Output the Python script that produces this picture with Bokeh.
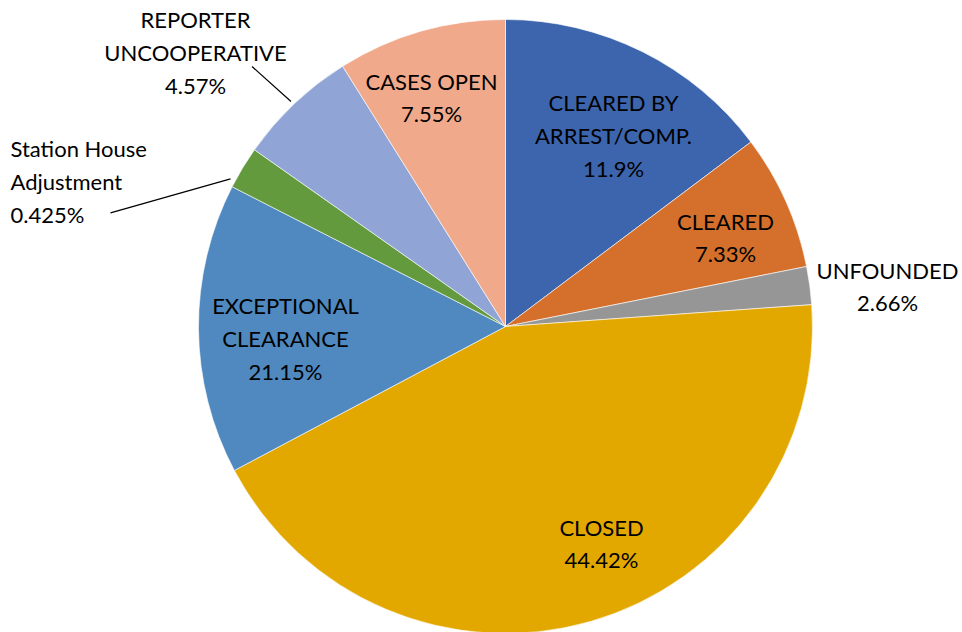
import math
from bokeh.plotting import figure
from bokeh.models import ColumnDataSource
from bokeh.core.properties import value
from bokeh.embed import file_html
from bokeh.resources import INLINE

# ---- data (slice shares; label texts as printed) ----
categories = ["CLEARED BY\nARREST/COMP.", "CLEARED", "UNFOUNDED", "CLOSED",
              "EXCEPTIONAL\nCLEARANCE", "Station House\nAdjustment",
              "REPORTER\nUNCOOPERATIVE", "CASES OPEN"]
shares = [14.74, 7.13, 2.00, 43.37, 15.29, 2.24, 6.34, 8.90]
pct_labels = ["11.9%", "7.33%", "2.66%", "44.42%", "21.15%", "0.425%", "4.57%", "7.55%"]
colors = ["#3D65AD", "#D4702B", "#969696", "#E2A800", "#4F89BF", "#649A3E", "#90A5D5", "#F0A98A"]

W, H = 962, 632
cx, cy, R = 505, H - 326, 307

total = sum(shares)
starts, ends = [], []
acc = 0.0
for s in shares:
    starts.append(math.pi / 2 - 2 * math.pi * acc / total)
    acc += s
    ends.append(math.pi / 2 - 2 * math.pi * acc / total)

src = ColumnDataSource(dict(start=starts, end=ends, color=colors))

p = figure(width=W, height=H, x_range=(0, W), y_range=(0, H),
           output_backend="svg", toolbar_location=None, min_border=0)
p.axis.visible = False
p.grid.visible = False
p.outline_line_color = None
p.background_fill_color = "white"

p.wedge(x=cx, y=cy, radius=R, start_angle="start", end_angle="end",
        direction="clock", fill_color="color", line_color="white",
        line_width=0.6, source=src)

# label layout (pixel positions of label centres / anchors)
label_pos = [(613, 135, "center"), (725, 237, "center"), (887, 286, "center"),
             (601, 543, "center"), (285, 338, "center"), (10, 181, "left"),
             (195, 52, "center"), (431, 97, "center")]
texts = [f"{c}\n{v}" for c, v in zip(categories, pct_labels)]
for (lx, ly, al), t in zip(label_pos, texts):
    p.text(x=[lx], y=[H - ly], text=[t], text_align=al, text_baseline="middle",
           text_font=value("Lato"), text_font_size="22px", text_color="#000000",
           text_line_height=1.21)

# leader lines
p.line(x=[251.5, 290.5], y=[H - 66, H - 101], line_color="black", line_width=1.2)
p.line(x=[110, 230], y=[H - 212.3, H - 178.3], line_color="black", line_width=1.2)

open("out.html", "w").write(file_html(p, INLINE))
